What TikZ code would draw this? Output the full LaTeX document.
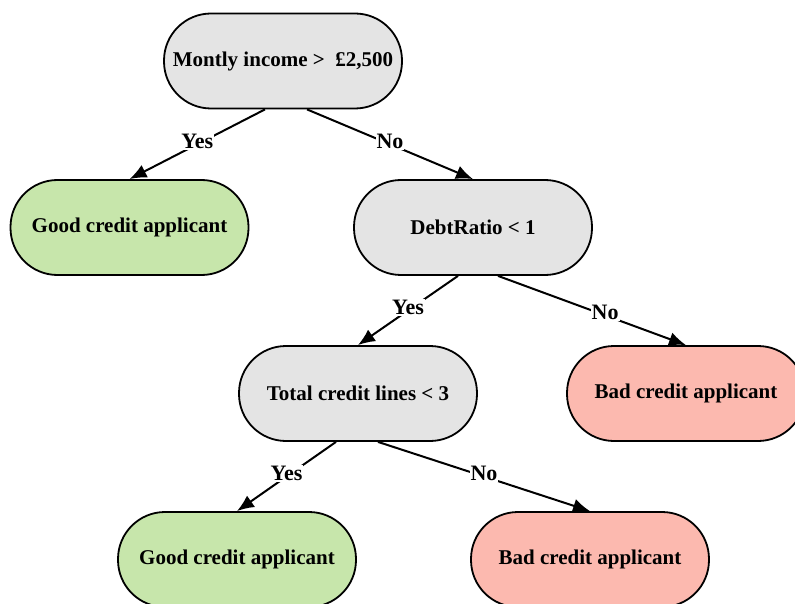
\documentclass[tikz,border=0pt]{standalone}
\usepackage{fontspec}
\setmainfont{Liberation Serif}
\usetikzlibrary{arrows.meta}
\definecolor{testgray}{RGB}{228,228,228}
\definecolor{goodgreen}{RGB}{199,230,171}
\definecolor{badred}{RGB}{252,185,175}
\begin{document}
\begin{tikzpicture}[x=1pt, y=-1pt, >={Latex[length=17pt,width=14pt]},
 box/.style={draw, line width=1.8pt, rounded corners=47pt, minimum width=238pt, minimum height=95pt, font=\fontsize{21}{25}\selectfont\bfseries},
 test/.style={box, fill=testgray},
 good/.style={box, fill=goodgreen},
 bad/.style={box, fill=badred},
 ans/.style={fill=white, inner sep=1pt, yshift=3pt, font=\fontsize{22}{26}\selectfont\bfseries},
 edge/.style={->, line width=2pt}]
\useasboundingbox (0,0) rectangle (795,604);
\node[test] (income) at (283,61) {Montly income >\ \ £2,500};
\node[good] (good1) at (129.5,227.5) {Good credit applicant};
\node[test] (debt) at (473,227.5) {DebtRatio < 1};
\node[test] (lines) at (358,393.5) {Total credit lines < 3};
\node[bad] (bad1) at (686,393.5) {Bad credit applicant};
\node[good] (good2) at (237,559.5) {Good credit applicant};
\node[bad] (bad2) at (590,559.5) {Bad credit applicant};

\draw[edge]([xshift=-18pt]income.south)--node[ans]{Yes}(good1.north);
\draw[edge]([xshift=24pt]income.south)--node[ans]{No}(debt.north);
\draw[edge]([xshift=-15pt]debt.south)--node[ans]{Yes}(lines.north);
\draw[edge]([xshift=25pt]debt.south)--node[ans, pos=.57]{No}(bad1.north);
\draw[edge]([xshift=-22pt]lines.south)--node[ans]{Yes}(good2.north);
\draw[edge]([xshift=20pt]lines.south)--node[ans]{No}(bad2.north);

\end{tikzpicture}
\end{document}
